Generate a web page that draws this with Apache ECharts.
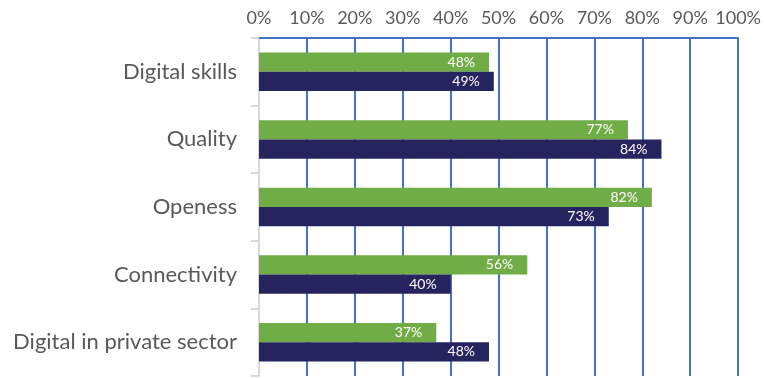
<!DOCTYPE html>
<html>
<head>
<meta charset="utf-8">
<script src="https://cdn.jsdelivr.net/npm/echarts@6/dist/echarts.min.js"></script>
<style>
  html, body { margin: 0; padding: 0; background: #fff; }
  #chart { width: 764px; height: 378px; }
</style>
</head>
<body>
<div id="chart"></div>
<script>
// Categories, top to bottom
const categories = ['Digital skills', 'Quality', 'Openess', 'Connectivity', 'Digital in private sector'];
// Series values (percent)
const greenValues = [48, 77, 82, 56, 37];
const navyValues = [49, 84, 73, 40, 48];
// Value axis tick step and range
const axisMin = 0;
const axisMax = 100;
const axisStep = 10;

const FONT = 'Lato, "Open Sans", sans-serif';

const chart = echarts.init(document.getElementById('chart'));

const labelStyle = {
  show: true,
  position: 'insideRight',
  distance: 14,
  color: '#ffffff',
  fontFamily: FONT,
  fontSize: 14,
  formatter: p => p.value + '%'
};

chart.setOption({
  animation: false,
  grid: { left: 259, right: 22, top: 38, bottom: 2, containLabel: false },
  xAxis: {
    type: 'value',
    position: 'top',
    min: axisMin,
    max: axisMax,
    interval: axisStep,
    axisLine: { show: true, lineStyle: { color: '#4472C4', width: 2 } },
    axisTick: { show: false },
    splitLine: { show: true, lineStyle: { color: '#4472C4', width: 2 } },
    axisLabel: {
      color: '#595959',
      fontFamily: FONT,
      fontSize: 18,
      margin: 11,
      formatter: v => v + '%'
    }
  },
  yAxis: {
    type: 'category',
    data: categories,
    inverse: true,
    axisLine: { show: true, lineStyle: { color: '#d9d9d9', width: 2 } },
    axisTick: { show: true, length: 8, lineStyle: { color: '#d9d9d9', width: 2 } },
    axisLabel: {
      color: '#595959',
      fontFamily: FONT,
      fontSize: 22,
      margin: 22
    }
  },
  series: [
    {
      type: 'bar',
      data: greenValues,
      barGap: '0%',
      barCategoryGap: '43%',
      itemStyle: { color: '#70AD47' },
      label: labelStyle
    },
    {
      type: 'bar',
      data: navyValues,
      itemStyle: { color: '#26245E' },
      label: labelStyle
    }
  ]
});
</script>
</body>
</html>
